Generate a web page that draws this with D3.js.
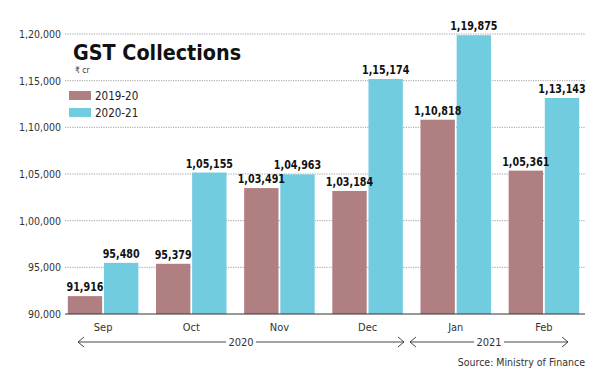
<!DOCTYPE html>
<html>
<head>
<meta charset="utf-8">
<script src="https://cdn.jsdelivr.net/npm/d3@7.9.0/dist/d3.min.js"></script>
<style>
  body { margin: 0; background: #fff; }
  svg { display: block; font-family: "DejaVu Sans Condensed", "DejaVu Sans", sans-serif; }
</style>
</head>
<body>
<svg id="chart" width="600" height="383"></svg>
<script>
// Chart data
const months = ['Sep', 'Oct', 'Nov', 'Dec', 'Jan', 'Feb'];
const series = ['2019-20', '2020-21'];
const values2019 = [91916, 95379, 103491, 103184, 110818, 105361];
const values2020 = [95480, 105155, 104963, 115174, 119875, 113143];
const yTicks = [90000, 95000, 100000, 105000, 110000, 115000, 120000];
const years = [
  { label: '2020', left: 78, right: 404 },
  { label: '2021', left: 410, right: 568 }
];

const colors = { '2019-20': '#b07f82', '2020-21': '#72cce0' };

// Indian style grouping: 1,20,000
function inr(n) {
  const s = String(n);
  if (s.length <= 3) return s;
  const last3 = s.slice(-3);
  let rest = s.slice(0, -3);
  const parts = [];
  while (rest.length > 2) { parts.unshift(rest.slice(-2)); rest = rest.slice(0, -2); }
  if (rest) parts.unshift(rest);
  return parts.join(',') + ',' + last3;
}

const svg = d3.select('#chart');

const y = d3.scaleLinear().domain([90000, 120000]).range([314, 34]);
const x0 = d3.scaleBand().domain(months).range([59, 588]).paddingInner(0.2).paddingOuter(0.1);
const x1 = d3.scaleBand().domain(series).range([0, x0.bandwidth()]).paddingInner(0.05);

// gridlines
svg.append('g')
  .selectAll('line')
  .data(yTicks.slice(1))
  .join('line')
  .attr('x1', 65).attr('x2', 585)
  .attr('y1', d => y(d)).attr('y2', d => y(d))
  .attr('stroke', '#888')
  .attr('stroke-width', 0.8)
  .attr('stroke-dasharray', '1.2,1.2');

// y axis labels
const yAxis = d3.axisLeft(y).tickValues(yTicks).tickFormat(inr).tickSize(0).tickPadding(6);
svg.append('g')
  .attr('transform', 'translate(61,0)')
  .call(yAxis)
  .call(g => g.select('.domain').remove())
  .selectAll('text')
  .attr('x', 0)
  .attr('font-family', '"DejaVu Sans Condensed", sans-serif')
  .attr('font-size', 10.5)
  .attr('fill', '#333');

// bars
const rows = months.map((m, i) => ({ month: m, vals: [
  { key: series[0], v: values2019[i] },
  { key: series[1], v: values2020[i] }
]}));

const groups = svg.append('g')
  .selectAll('g')
  .data(rows)
  .join('g')
  .attr('transform', d => `translate(${x0(d.month)},0)`);

groups.selectAll('rect')
  .data(d => d.vals)
  .join('rect')
  .attr('x', d => x1(d.key))
  .attr('width', x1.bandwidth())
  .attr('y', d => y(d.v))
  .attr('height', d => y(90000) - y(d.v))
  .attr('fill', d => colors[d.key]);

// value labels, squeezed horizontally like the condensed print face
groups.selectAll('text')
  .data(d => d.vals)
  .join('text')
  .attr('transform', d => `translate(${x1(d.key) + x1.bandwidth() / 2},${y(d.v) - 5}) scale(0.82,1)`)
  .attr('text-anchor', 'middle')
  .attr('font-size', 13)
  .attr('font-weight', 'bold')
  .attr('fill', '#111')
  .text(d => inr(d.v));

// baseline
svg.append('line')
  .attr('x1', 65).attr('x2', 585)
  .attr('y1', y(90000)).attr('y2', y(90000))
  .attr('stroke', '#333').attr('stroke-width', 1.2);

// month labels
const xAxis = d3.axisBottom(x0).tickSize(0).tickPadding(9);
svg.append('g')
  .attr('transform', `translate(0,${y(90000)})`)
  .call(xAxis)
  .call(g => g.select('.domain').remove())
  .selectAll('text')
  .attr('font-family', '"DejaVu Sans Condensed", sans-serif')
  .attr('font-size', 11)
  .attr('fill', '#333');

// year arrows
const ay = 342;
years.forEach(yr => {
  const cx = (yr.left + yr.right) / 2;
  const g = svg.append('g').attr('stroke', '#333').attr('stroke-width', 0.9).attr('fill', 'none');
  const halfText = 15;
  g.append('line').attr('x1', yr.left).attr('x2', cx - halfText).attr('y1', ay).attr('y2', ay);
  g.append('line').attr('x1', cx + halfText).attr('x2', yr.right).attr('y1', ay).attr('y2', ay);
  g.append('path').attr('d', `M${yr.left + 6},${ay - 5}L${yr.left},${ay}L${yr.left + 6},${ay + 5}`);
  g.append('path').attr('d', `M${yr.right - 6},${ay - 5}L${yr.right},${ay}L${yr.right - 6},${ay + 5}`);
  svg.append('text')
    .attr('x', cx).attr('y', ay + 4)
    .attr('text-anchor', 'middle')
    .attr('font-size', 11)
    .attr('fill', '#333')
    .text(yr.label);
});

// title
svg.append('text')
  .attr('transform', 'translate(73,60) scale(0.97,1)')
  .attr('font-size', 22)
  .attr('font-weight', 'bold')
  .attr('fill', '#111')
  .text('GST Collections');

svg.append('text')
  .attr('x', 75).attr('y', 73)
  .attr('font-size', 8.5)
  .attr('fill', '#333')
  .text('₹ cr');

// legend
const legend = svg.append('g')
  .selectAll('g')
  .data(series)
  .join('g')
  .attr('transform', (d, i) => `translate(69,${91 + i * 17})`);
legend.append('rect').attr('width', 22).attr('height', 9).attr('fill', d => colors[d]);
legend.append('text')
  .attr('x', 26).attr('y', 9)
  .attr('font-size', 11.5)
  .attr('fill', '#222')
  .text(d => d);

// source
svg.append('text')
  .attr('x', 585).attr('y', 366)
  .attr('text-anchor', 'end')
  .attr('font-size', 10.5)
  .attr('fill', '#333')
  .text('Source: Ministry of Finance');
</script>
</body>
</html>
